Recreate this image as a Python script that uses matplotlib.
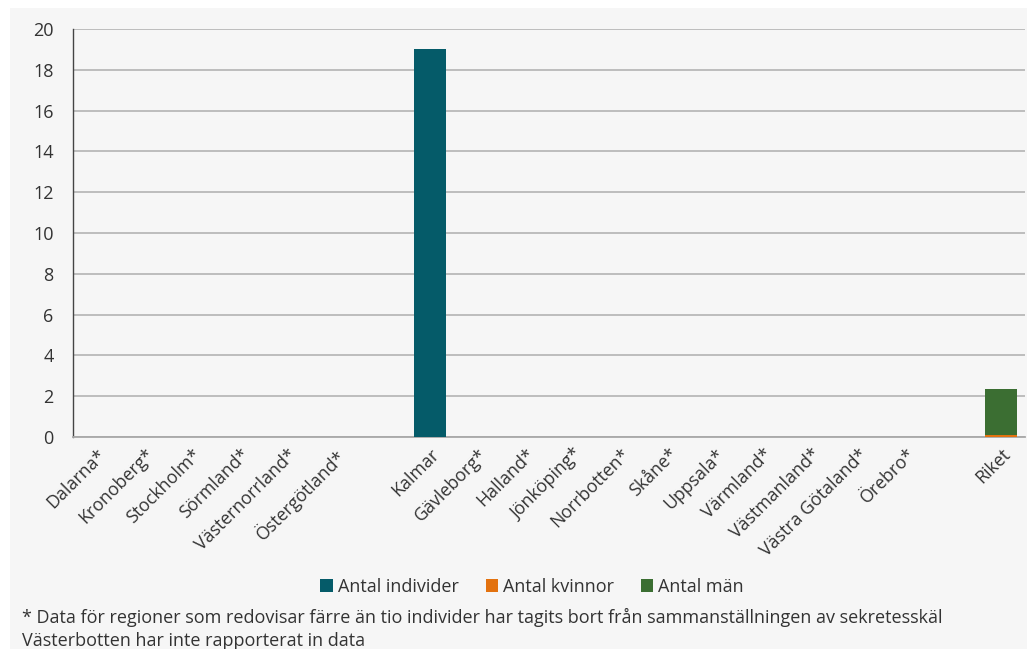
import numpy as np
import matplotlib
matplotlib.use("Agg")
import matplotlib.pyplot as plt
from matplotlib.patches import Rectangle

plt.rcParams['font.family'] = ['Open Sans', 'DejaVu Sans']

# regions, empty strings are the gaps between groups
regioner = ["Dalarna*", "Kronoberg*", "Stockholm*", "Sörmland*", "Västernorrland*",
            "Östergötland*", "", "Kalmar", "Gävleborg*", "Halland*", "Jönköping*",
            "Norrbotten*", "Skåne*", "Uppsala*", "Värmland*", "Västmanland*",
            "Västra Götaland*", "Örebro*", "", "Riket"]
antal_individer = [0, 0, 0, 0, 0, 0, 0, 19, 0, 0, 0, 0, 0, 0, 0, 0, 0, 0, 0, 0]
antal_kvinnor = [0, 0, 0, 0, 0, 0, 0, 0, 0, 0, 0, 0, 0, 0, 0, 0, 0, 0, 0, 0.1]
antal_man = [0, 0, 0, 0, 0, 0, 0, 0, 0, 0, 0, 0, 0, 0, 0, 0, 0, 0, 0, 2.25]
yticks = [0, 2, 4, 6, 8, 10, 12, 14, 16, 18, 20]

bg = "#f6f6f6"
c_ind = "#055b69"
c_kv = "#e3720f"
c_man = "#3b6e32"
txt = "#333333"

fig = plt.figure(figsize=(10.27, 6.49), dpi=100, facecolor="white")
fig.patches.append(Rectangle((10/1027, 0), 1, 1 - 8/649, transform=fig.transFigure,
                             facecolor=bg, edgecolor="none", zorder=-10))

ax = fig.add_axes([73/1027, 1 - 437/649, 952/1027, 408/649])
ax.set_facecolor(bg)

x = np.arange(len(regioner))
w = 0.67
ind = np.array(antal_individer)
kv = np.array(antal_kvinnor)
man = np.array(antal_man)
ax.bar(x, ind, w, color=c_ind, label="Antal individer", zorder=3)
ax.bar(x, kv, w, bottom=ind, color=c_kv, label="Antal kvinnor", zorder=3)
ax.bar(x, man, w, bottom=ind + kv, color=c_man, label="Antal män", zorder=3)

ax.set_xlim(-0.5, len(regioner) - 0.5)
ax.set_ylim(0, 20)
ax.set_yticks(yticks)
ax.set_xticks(x)
ax.set_xticklabels(regioner, rotation=45, ha="right", rotation_mode="anchor")
ax.tick_params(axis="x", length=0, pad=6, labelsize=12.8, labelcolor=txt)
ax.tick_params(axis="y", length=0, pad=14, labelsize=13, labelcolor=txt)
ax.grid(axis="y", color="#b8b8b8", linewidth=1.3, zorder=0)
for s in ["top", "right"]:
    ax.spines[s].set_visible(False)
ax.spines["left"].set_color("#444444")
ax.spines["left"].set_linewidth(1.0)
ax.spines["bottom"].set_color("#a8a8a8")
ax.spines["bottom"].set_linewidth(1.3)

fig.legend(loc="center", bbox_to_anchor=(532/1027, 1 - 587/649), ncol=3, frameon=False,
           handlelength=0.7, handleheight=0.7, handletextpad=0.25, columnspacing=1.5,
           fontsize=13, labelcolor=txt)

fig.text(22/1027, 1 - 617/649,
         "* Data för regioner som redovisar färre än tio individer har tagits bort från sammanställningen av sekretesskäl",
         fontsize=13, color=txt, va="center", ha="left")
fig.text(22/1027, 1 - 641/649, "Västerbotten har inte rapporterat in data",
         fontsize=13, color=txt, va="center", ha="left")

fig.savefig("out.png", dpi=100, facecolor="white")
